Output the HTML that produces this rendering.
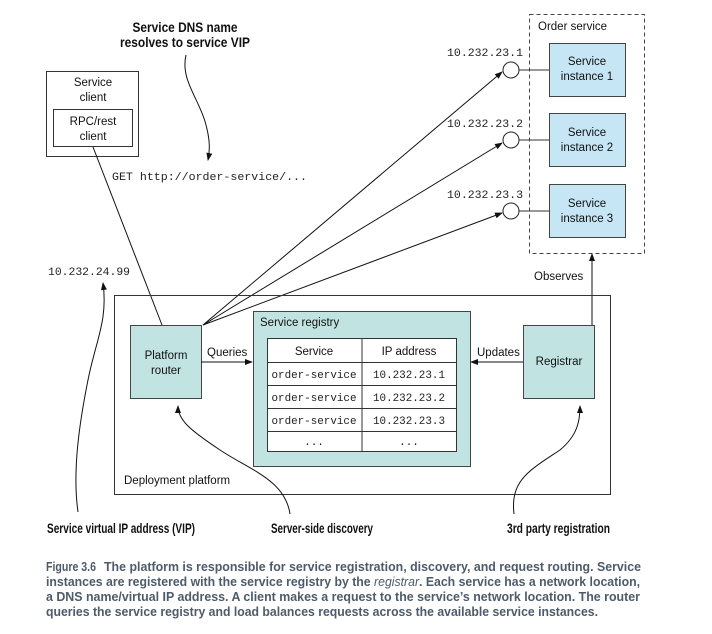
<!DOCTYPE html>
<html><head><meta charset="utf-8"><style>
html,body{margin:0;padding:0;background:#fff;}
svg{display:block;}
.s{font-family:"Liberation Sans",sans-serif;font-size:11.5px;fill:#111;}
.m{font-family:"Liberation Mono",monospace;font-size:11px;fill:#222;}
.b{font-family:"Liberation Sans",sans-serif;font-size:14px;font-weight:bold;fill:#111;}
.c{font-family:"Liberation Sans",sans-serif;font-size:12.5px;font-weight:bold;fill:#4d5b6a;}
</style></head><body>
<svg width="712" height="634" viewBox="0 0 712 634" xmlns="http://www.w3.org/2000/svg">
<defs><marker id="a" markerWidth="8" markerHeight="6" refX="7" refY="3" orient="auto" markerUnits="userSpaceOnUse"><path d="M0,0 L8,3 L0,6 z" fill="#111"/></marker></defs>

<text class="b" x="185" y="32" text-anchor="middle" textLength="105" lengthAdjust="spacingAndGlyphs">Service DNS name</text>
<text class="b" x="185" y="47" text-anchor="middle" textLength="130" lengthAdjust="spacingAndGlyphs">resolves to service VIP</text>
<path d="M186,55 C180,80 200,100 206,125 C210,140 210,150 208,160" fill="none" stroke="#111" stroke-width="1" marker-end="url(#a)"/>

<rect x="46.5" y="71.5" width="92" height="85" fill="#fff" stroke="#333" stroke-width="1"/>
<text class="s" x="93" y="86" text-anchor="middle">Service</text>
<text class="s" x="93" y="101" text-anchor="middle">client</text>
<rect x="53.5" y="109.5" width="79" height="37" fill="#fff" stroke="#333" stroke-width="1"/>
<text class="s" x="93" y="125" text-anchor="middle">RPC/rest</text>
<text class="s" x="93" y="140" text-anchor="middle">client</text>
<text class="m" x="112" y="180" textLength="195" lengthAdjust="spacingAndGlyphs">GET http://order-service/...</text>
<line x1="93" y1="147" x2="162" y2="325" stroke="#111" stroke-width="1"/>

<text class="m" x="48" y="275" textLength="82" lengthAdjust="spacingAndGlyphs">10.232.24.99</text>

<rect x="529.5" y="14.5" width="115" height="239" fill="none" stroke="#444" stroke-width="1" stroke-dasharray="4,3"/>
<text class="s" x="538" y="30">Order service</text>
<g fill="#c6e6f5" stroke="#444" stroke-width="1">
<rect x="549.5" y="43.5" width="76" height="53"/>
<rect x="549.5" y="113.5" width="76" height="53"/>
<rect x="549.5" y="184.5" width="76" height="53"/>
</g>
<text class="s" x="587" y="65" text-anchor="middle">Service</text><text class="s" x="587" y="80" text-anchor="middle">instance 1</text>
<text class="s" x="587" y="136" text-anchor="middle">Service</text><text class="s" x="587" y="151" text-anchor="middle">instance 2</text>
<text class="s" x="587" y="207" text-anchor="middle">Service</text><text class="s" x="587" y="222" text-anchor="middle">instance 3</text>
<g stroke="#333" stroke-width="1">
<line x1="519" y1="70" x2="549" y2="70"/><line x1="519" y1="140" x2="549" y2="140"/><line x1="519" y1="211" x2="549" y2="211"/>
</g>
<g fill="#fff" stroke="#222" stroke-width="1">
<circle cx="511" cy="70" r="8"/><circle cx="511" cy="140" r="8"/><circle cx="511" cy="211" r="8"/>
</g>
<text class="m" x="523" y="56" text-anchor="end" textLength="76" lengthAdjust="spacingAndGlyphs">10.232.23.1</text>
<text class="m" x="523" y="127" text-anchor="end" textLength="76" lengthAdjust="spacingAndGlyphs">10.232.23.2</text>
<text class="m" x="523" y="198" text-anchor="end" textLength="76" lengthAdjust="spacingAndGlyphs">10.232.23.3</text>

<g stroke="#111" stroke-width="1" fill="none" marker-end="url(#a)">
<line x1="203" y1="325" x2="502" y2="72"/>
<line x1="203" y1="325" x2="502" y2="143"/>
<line x1="203" y1="325" x2="502" y2="213"/>
<line x1="592" y1="325" x2="592" y2="254"/>
</g>
<text class="s" x="534" y="280">Observes</text>

<rect x="114.5" y="295.5" width="496" height="199" fill="none" stroke="#333" stroke-width="1"/>
<text class="s" x="124" y="484">Deployment platform</text>
<rect x="130.5" y="325.5" width="71" height="73" fill="#c1e4e2" stroke="#444" stroke-width="1"/>
<text class="s" x="166" y="359" text-anchor="middle">Platform</text>
<text class="s" x="166" y="374" text-anchor="middle">router</text>
<rect x="523.5" y="325.5" width="71" height="73" fill="#c1e4e2" stroke="#444" stroke-width="1"/>
<text class="s" x="559" y="365" text-anchor="middle">Registrar</text>
<rect x="253.5" y="311.5" width="217" height="155" fill="#c1e4e2" stroke="#444" stroke-width="1"/>
<text class="s" x="260" y="326">Service registry</text>
<rect x="267.5" y="338.5" width="189" height="113" fill="#fff" stroke="#333" stroke-width="1"/>
<g stroke="#333" stroke-width="1">
<line x1="362" y1="338" x2="362" y2="451"/>
<line x1="267" y1="362.5" x2="456" y2="362.5"/>
<line x1="267" y1="385.5" x2="456" y2="385.5"/>
<line x1="267" y1="408.5" x2="456" y2="408.5"/>
<line x1="267" y1="431.5" x2="456" y2="431.5"/>
</g>
<text class="s" x="314" y="355" text-anchor="middle">Service</text>
<text class="s" x="409" y="355" text-anchor="middle">IP address</text>
<text class="m" x="314" y="378" text-anchor="middle" textLength="85" lengthAdjust="spacingAndGlyphs">order-service</text>
<text class="m" x="314" y="401" text-anchor="middle" textLength="85" lengthAdjust="spacingAndGlyphs">order-service</text>
<text class="m" x="314" y="424" text-anchor="middle" textLength="85" lengthAdjust="spacingAndGlyphs">order-service</text>
<text class="m" x="409" y="378" text-anchor="middle" textLength="72" lengthAdjust="spacingAndGlyphs">10.232.23.1</text>
<text class="m" x="409" y="401" text-anchor="middle" textLength="72" lengthAdjust="spacingAndGlyphs">10.232.23.2</text>
<text class="m" x="409" y="424" text-anchor="middle" textLength="72" lengthAdjust="spacingAndGlyphs">10.232.23.3</text>
<text class="m" x="314" y="445" text-anchor="middle">...</text>
<text class="m" x="409" y="445" text-anchor="middle">...</text>
<g stroke="#111" stroke-width="1" marker-end="url(#a)">
<line x1="201" y1="362" x2="252" y2="362"/>
<line x1="523" y1="362" x2="471" y2="362"/>
</g>
<text class="s" x="207" y="356">Queries</text>
<text class="s" x="477" y="356">Updates</text>

<g stroke="#111" stroke-width="1" fill="none" marker-end="url(#a)">
<path d="M78,512 C72,470 80,420 88,380 C96,340 108,320 103,283"/>
<path d="M290,514 C285,480 250,470 220,450 C190,430 178,420 178,406"/>
<path d="M514,514 C510,480 530,470 560,450 C578,435 580,420 580,406"/>
</g>
<text class="b" x="47" y="533" textLength="148" lengthAdjust="spacingAndGlyphs">Service virtual IP address (VIP)</text>
<text class="b" x="271" y="533" textLength="102" lengthAdjust="spacingAndGlyphs">Server-side discovery</text>
<text class="b" x="507" y="533" textLength="103" lengthAdjust="spacingAndGlyphs">3rd party registration</text>

<text class="c" x="46" y="571" textLength="50" lengthAdjust="spacingAndGlyphs">Figure 3.6</text>
<text class="c" x="104" y="571" textLength="537" lengthAdjust="spacingAndGlyphs">The platform is responsible for service registration, discovery, and request routing. Service</text>
<text class="c" x="46" y="586" textLength="594" lengthAdjust="spacingAndGlyphs">instances are registered with the service registry by the <tspan font-style="italic" font-weight="normal">registrar</tspan>. Each service has a network location,</text>
<text class="c" x="46" y="601" textLength="594" lengthAdjust="spacingAndGlyphs">a DNS name/virtual IP address. A client makes a request to the service’s network location. The router</text>
<text class="c" x="46" y="616" textLength="552" lengthAdjust="spacingAndGlyphs">queries the service registry and load balances requests across the available service instances.</text>
</svg>
</body></html>
